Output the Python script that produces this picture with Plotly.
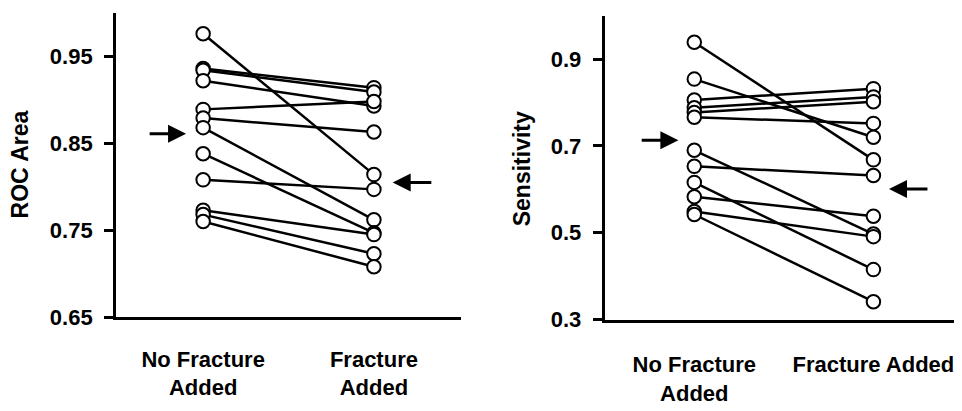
import plotly.graph_objects as go

# ---- data ----
categories = ["No Fracture<br>Added", "Fracture<br>Added"]
categories_right = ["No Fracture<br>Added", "Fracture Added"]

roc_no_fracture = [0.976, 0.936, 0.934, 0.922, 0.889, 0.879, 0.868, 0.838, 0.808, 0.773, 0.768, 0.760]
roc_fracture    = [0.814, 0.914, 0.909, 0.893, 0.898, 0.863, 0.762, 0.747, 0.797, 0.745, 0.723, 0.708]

sens_no_fracture = [0.939, 0.854, 0.806, 0.788, 0.777, 0.766, 0.690, 0.653, 0.616, 0.583, 0.549, 0.542]
sens_fracture    = [0.668, 0.720, 0.832, 0.813, 0.802, 0.752, 0.497, 0.632, 0.415, 0.538, 0.491, 0.341]

roc_mean_arrows = [0.861, 0.805]    # mean markers (arrows) left / right
sens_mean_arrows = [0.713, 0.601]

roc_ticks = [0.65, 0.75, 0.85, 0.95]
sens_ticks = [0.3, 0.5, 0.7, 0.9]

FONT = "Liberation Sans, Arial, Helvetica, sans-serif"
xpos = [1, 2]

fig = go.Figure()

def add_panel(no_f, f, xa, ya):
    for a, b in zip(no_f, f):
        fig.add_trace(go.Scatter(x=xpos, y=[a, b], mode="lines",
                                 line=dict(color="black", width=2.5),
                                 xaxis=xa, yaxis=ya, showlegend=False,
                                 hoverinfo="skip"))
    fig.add_trace(go.Scatter(x=[1] * len(no_f) + [2] * len(f), y=list(no_f) + list(f),
                             mode="markers",
                             marker=dict(symbol="circle", size=13.5, color="white",
                                         line=dict(color="black", width=2)),
                             xaxis=xa, yaxis=ya, showlegend=False))

add_panel(roc_no_fracture, roc_fracture, "x", "y")
add_panel(sens_no_fracture, sens_fracture, "x2", "y2")

axis_common = dict(showgrid=False, zeroline=False, showline=True, linecolor="black",
                   linewidth=3, mirror=False)
tickfont = dict(family=FONT, size=22, color="black", weight="bold")

fig.update_layout(
    width=962, height=411,
    margin=dict(l=0, r=0, t=0, b=0),
    paper_bgcolor="white", plot_bgcolor="white",
    xaxis=dict(domain=[0.1123, 0.4709], range=[0.49, 2.51], tickvals=xpos,
               ticktext=categories, ticks="outside", ticklen=20,
               tickcolor="rgba(0,0,0,0)", tickfont=tickfont, anchor="y", **axis_common),
    yaxis=dict(domain=[0.2231, 0.9878], range=[0.65, 1.0], tickvals=roc_ticks,
               ticktext=["%.2f" % v for v in roc_ticks], ticks="outside", ticklen=9,
               tickwidth=3, tickcolor="black", tickfont=tickfont, ticklabelstandoff=7,
               anchor="x", **axis_common),
    xaxis2=dict(domain=[0.6203, 0.9927], range=[0.5, 2.5], tickvals=xpos,
                ticktext=categories_right, ticks="outside", ticklen=23,
                tickcolor="rgba(0,0,0,0)", tickfont=tickfont, anchor="y2", **axis_common),
    yaxis2=dict(domain=[0.2173, 0.9805], range=[0.3, 1.0], tickvals=sens_ticks,
                ticktext=["%.1f" % v for v in sens_ticks], ticks="outside", ticklen=9,
                tickwidth=3, tickcolor="black", tickfont=tickfont, ticklabelstandoff=7,
                anchor="x2", **axis_common),
)

# axis titles
title_font = dict(family=FONT, size=23, color="black", weight="bold")
fig.add_annotation(text="ROC Area", x=0.0135, y=0.6068, xref="paper", yref="paper",
                   textangle=-90, showarrow=False, font=title_font,
                   xanchor="center", yanchor="middle")
fig.add_annotation(text="Sensitivity", x=0.534, y=0.5966, xref="paper", yref="paper",
                   textangle=-90, showarrow=False, font=title_font,
                   xanchor="center", yanchor="middle")

# mean arrows
def add_arrow(xh, xt, yv, xr, yr):
    fig.add_annotation(x=xh, y=yv, ax=xt, ay=yv, xref=xr, yref=yr, axref=xr, ayref=yr,
                       text="", showarrow=True, arrowhead=2, arrowsize=1.2,
                       arrowwidth=3, arrowcolor="black", standoff=0)

add_arrow(0.90, 0.678, roc_mean_arrows[0], "x", "y")
add_arrow(2.11, 2.345, roc_mean_arrows[1], "x", "y")
add_arrow(0.911, 0.698, sens_mean_arrows[0], "x2", "y2")
add_arrow(2.087, 2.31, sens_mean_arrows[1], "x2", "y2")

fig.write_html("out.html")
